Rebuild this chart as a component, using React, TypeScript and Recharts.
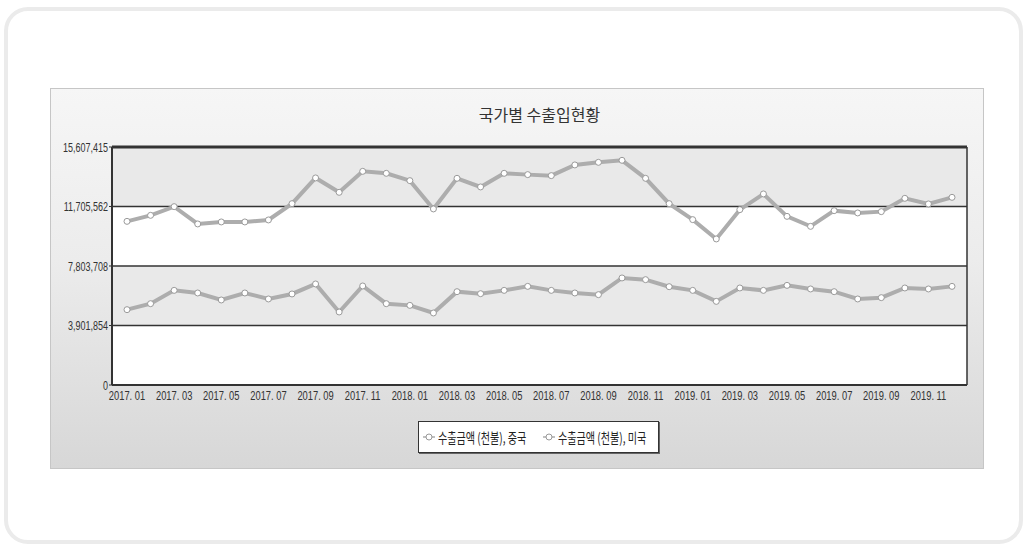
import React from 'react';
import { LineChart, Line, XAxis, YAxis, CartesianGrid, Legend, ReferenceLine } from 'recharts';

const categories = [
  '2017. 01', '2017. 02', '2017. 03', '2017. 04', '2017. 05', '2017. 06', '2017. 07', '2017. 08', '2017. 09', '2017. 10', '2017. 11', '2017. 12',
  '2018. 01', '2018. 02', '2018. 03', '2018. 04', '2018. 05', '2018. 06', '2018. 07', '2018. 08', '2018. 09', '2018. 10', '2018. 11', '2018. 12',
  '2019. 01', '2019. 02', '2019. 03', '2019. 04', '2019. 05', '2019. 06', '2019. 07', '2019. 08', '2019. 09', '2019. 10', '2019. 11', '2019. 12',
];

const chinaExports = [
  10732000, 11126000, 11696000, 10562000, 10693000, 10693000, 10824000, 11893000, 13579000, 12635000, 14012000, 13881000,
  13402000, 11546000, 13553000, 12989000, 13881000, 13796000, 13730000, 14432000, 14603000, 14734000, 13553000, 11893000,
  10844000, 9578000, 11500000, 12530000, 11060000, 10404000, 11434000, 11283000, 11368000, 12241000, 11874000, 12307000,
];

const usaExports = [
  4940000, 5333000, 6206000, 6035000, 5576000, 6035000, 5642000, 5970000, 6626000, 4789000, 6494000, 5333000,
  5222000, 4723000, 6120000, 5989000, 6206000, 6468000, 6206000, 6035000, 5924000, 7019000, 6908000, 6448000,
  6206000, 5484000, 6363000, 6206000, 6534000, 6298000, 6120000, 5642000, 5727000, 6363000, 6298000, 6468000,
];

const yTicks = [0, 3901854, 7803708, 11705562, 15607415];

const seriesNames = ['수출금액 (천불), 중국', '수출금액 (천불), 미국'];
const title = '국가별 수출입현황';

const data = categories.map((c, i) => ({
  month: c,
  china: chinaExports[i],
  usa: usaExports[i],
}));

const TICK_FONT = "'Liberation Sans', Arial, sans-serif";
const CJK = "'Noto Sans CJK KR', 'Noto Sans', sans-serif";
const LINE_COLOR = '#adadad';
const SQUEEZE = 0.72;

const XTick = (props: any) => {
  const { x, y, payload } = props;
  return (
    <g transform={`translate(${x},${y})`}>
      <text
        transform={`scale(${SQUEEZE},1)`}
        textAnchor="middle"
        dy="0.72em"
        fill="#333"
        fontSize={13}
        fontFamily={TICK_FONT}
      >
        {payload.value}
      </text>
    </g>
  );
};

const YTick = (props: any) => {
  const { x, y, payload } = props;
  return (
    <g transform={`translate(${x},${y})`}>
      <text
        transform={`scale(${SQUEEZE},1)`}
        textAnchor="end"
        dy="0.36em"
        fill="#333"
        fontSize={12.5}
        fontFamily={TICK_FONT}
      >
        {Number(payload.value).toLocaleString('en-US')}
      </text>
    </g>
  );
};

const LegendBox = (props: any) => {
  const payload = props.payload || [];
  return (
    <div
      style={{
        width: 241,
        height: 32,
        boxSizing: 'border-box',
        border: '1px solid #333',
        boxShadow: '1px 1px 0 #666',
        background: '#fff',
        display: 'flex',
        alignItems: 'center',
        fontFamily: CJK,
        fontSize: 14,
        color: '#222',
      }}
    >
      {payload.map((p: any, i: number) => (
        <div key={i} style={{ display: 'flex', alignItems: 'center', marginLeft: i === 0 ? 4 : 0 }}>
          <svg width={12} height={10} style={{ display: 'block' }}>
            <line x1={0} y1={5} x2={12} y2={5} stroke={LINE_COLOR} strokeWidth={1.5} />
            <circle cx={6} cy={5} r={3} fill="#fff" stroke="#999" strokeWidth={1} />
          </svg>
          <span style={{ display: 'inline-block', width: 105, marginLeft: 3, whiteSpace: 'nowrap', lineHeight: '18px' }}>
            <span style={{ display: 'inline-block', transform: 'scaleX(0.72)', transformOrigin: 'left center' }}>
              {p.value}
            </span>
          </span>
        </div>
      ))}
    </div>
  );
};

export default function App() {
  return (
    <div style={{ position: 'absolute', left: 0, top: 0, width: 1027, height: 547, background: '#fff', overflow: 'hidden' }}>
      <div
        style={{
          position: 'absolute',
          left: 4,
          top: 7,
          width: 1019,
          height: 537,
          boxSizing: 'border-box',
          border: '4px solid #ebebeb',
          borderRadius: 24,
          background: '#fff',
        }}
      />
      <div
        style={{
          position: 'absolute',
          left: 50,
          top: 88,
          width: 934,
          height: 381,
          background: 'linear-gradient(180deg, #f6f6f6 0%, #ececec 45%, #d7d7d7 100%)',
          outline: '1px solid #c6c6c6',
          outlineOffset: -1,
        }}
      >
        <div
          style={{
            position: 'absolute',
            left: 62,
            width: 855,
            top: 16,
            textAlign: 'center',
            fontFamily: CJK,
            fontSize: 16,
            lineHeight: '20px',
            color: '#333',
            zIndex: 2,
          }}
        >
          {title}
        </div>
        <LineChart width={934} height={381} data={data} margin={{ top: 59, right: 17, bottom: 54, left: 0 }}>
          <CartesianGrid
            horizontal
            vertical
            stroke="#333"
            strokeWidth={1.5}
            horizontalFill={['#e9e9e9', '#ffffff']}
            fillOpacity={1}
            verticalCoordinatesGenerator={({ offset }: any) => [offset.left, offset.left + offset.width]}
          />
          <ReferenceLine y={15607415} stroke="#333" strokeWidth={3} />
          <XAxis
            dataKey="month"
            interval={1}
            height={30}
            padding={{ left: 15, right: 15 }}
            tickSize={0}
            tickMargin={6}
            axisLine={{ stroke: '#333', strokeWidth: 2 }}
            tick={<XTick />}
          />
          <YAxis
            width={62}
            domain={[0, 15607415]}
            ticks={yTicks}
            interval={0}
            tickSize={3}
            tickMargin={1}
            axisLine={{ stroke: '#333', strokeWidth: 2 }}
            tickLine={{ stroke: '#333' }}
            tick={<YTick />}
          />
          <Legend
            layout="horizontal"
            verticalAlign="middle"
            align="center"
            itemSorter="dataKey"
            wrapperStyle={{ top: 333, left: 368, width: 241, height: 32 }}
            content={<LegendBox />}
          />
          <Line
            type="linear"
            dataKey="china"
            name={seriesNames[0]}
            stroke={LINE_COLOR}
            strokeWidth={4}
            dot={{ r: 3, fill: '#fff', stroke: '#9a9a9a', strokeWidth: 1 }}
            activeDot={false}
            isAnimationActive={false}
          />
          <Line
            type="linear"
            dataKey="usa"
            name={seriesNames[1]}
            stroke={LINE_COLOR}
            strokeWidth={4}
            dot={{ r: 3, fill: '#fff', stroke: '#9a9a9a', strokeWidth: 1 }}
            activeDot={false}
            isAnimationActive={false}
          />
        </LineChart>
      </div>
    </div>
  );
}
